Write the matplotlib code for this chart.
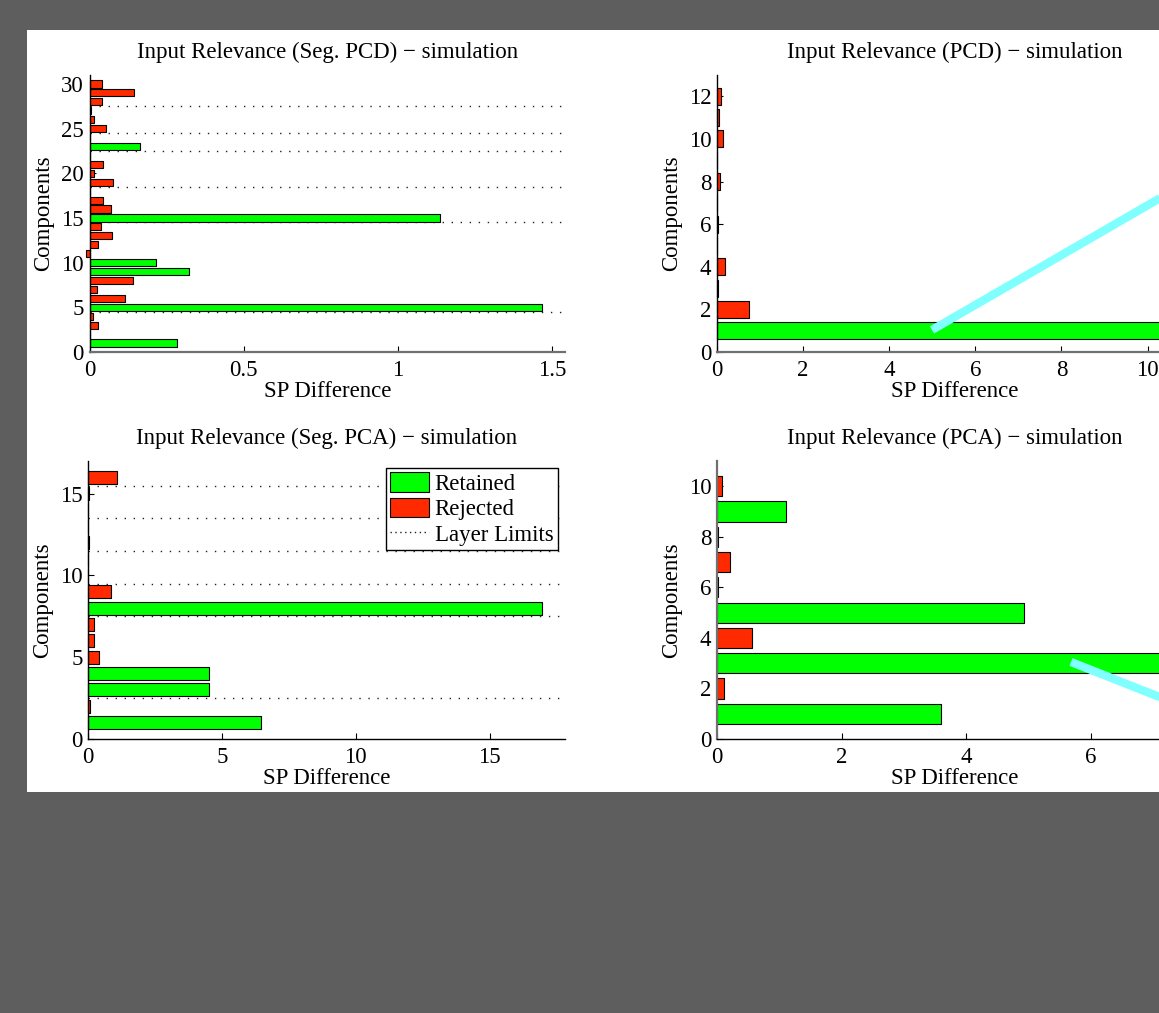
import matplotlib
matplotlib.use('Agg')
import matplotlib.pyplot as plt
from matplotlib.lines import Line2D
from matplotlib.patches import Patch, Rectangle
from matplotlib.ticker import FormatStrFormatter

plt.rcParams['font.family'] = ['Liberation Serif', 'DejaVu Serif']

GREEN = '#00ff00'
RED = '#ff2a00'
CYAN = '#80ffff'
FS = 16.5

# SP difference per component (component 1 first), 1 = retained, 0 = rejected
seg_pcd_sp = [0.284, 0.003, 0.028, 0.012, 1.469, 0.115, 0.024, 0.142, 0.323, 0.215,
              -0.010, 0.026, 0.074, 0.036, 1.137, 0.071, 0.043, 0.003, 0.075, 0.014,
              0.045, 0.003, 0.164, 0.0, 0.052, 0.016, 0.004, 0.039, 0.143, 0.039]
seg_pcd_kept = [1, 0, 0, 0, 1, 0, 0, 0, 1, 1,
                0, 0, 0, 0, 1, 0, 0, 0, 0, 0,
                0, 0, 1, 0, 0, 0, 0, 0, 0, 0]
seg_pcd_limits = [4.5, 14.5, 18.5, 22.5, 24.5, 27.5]

pcd_sp = [10.53, 0.74, 0.02, 0.18, 0.01, 0.03, 0.01, 0.08, 0.01, 0.13, 0.04, 0.085]
pcd_kept = [1, 0, 0, 0, 0, 0, 0, 0, 0, 0, 0, 0]

seg_pca_sp = [6.46, 0.09, 4.53, 4.52, 0.41, 0.24, 0.23, 16.97, 0.85, 0.01,
              0.0, 0.03, 0.0, 0.0, 0.02, 1.08]
seg_pca_kept = [1, 0, 1, 1, 0, 0, 0, 1, 0, 0, 0, 0, 0, 0, 0, 0]
seg_pca_limits = [2.5, 7.5, 9.5, 11.5, 13.5, 15.5]

pca_sp = [3.59, 0.12, 7.28, 0.56, 4.93, 0.02, 0.21, 0.02, 1.11, 0.08]
pca_kept = [1, 0, 1, 0, 1, 0, 0, 0, 1, 0]

titles = ['Input Relevance (Seg. PCD) \u2212 simulation',
          'Input Relevance (PCD) \u2212 simulation',
          'Input Relevance (Seg. PCA) \u2212 simulation',
          'Input Relevance (PCA) \u2212 simulation']

W, H = 1159, 1013


def px_box(x0, y0, x1, y1):
    # pixel box (top-left origin) -> figure fraction rect
    return [x0 / W, 1 - y1 / H, (x1 - x0) / W, (y1 - y0) / H]


def px_pt(x, y):
    return x / W, 1 - y / H


def panel(ax, values, kept, limits, title, xticks, yticks, ymax, xfmt='%g'):
    comps = list(range(1, len(values) + 1))
    colors = [GREEN if k else RED for k in kept]
    bars = ax.barh(comps, values, height=0.8, color=colors,
                   edgecolor='black', linewidth=0.8, zorder=2)
    for b in bars:
        b.set_clip_on(False)
    for lim in limits:
        ax.axhline(lim, color='#222222', lw=1.0, ls=(0, (1, 5.5)), zorder=1)
    ax.set_xlim(0, max(values) * 1.05)
    ax.set_ylim(0, ymax)
    ax.set_xticks(xticks)
    ax.set_yticks(yticks)
    ax.xaxis.set_major_formatter(FormatStrFormatter(xfmt))
    ax.tick_params(direction='in', length=4, width=0.8, labelsize=FS)
    ax.tick_params(axis='x', pad=6)
    ax.tick_params(axis='y', pad=4)
    ax.spines['top'].set_visible(False)
    ax.spines['right'].set_visible(False)
    for s in ('left', 'bottom'):
        ax.spines[s].set_linewidth(1.0)
    ax.set_title(title, fontsize=FS, pad=12)
    ax.set_xlabel('SP Difference', fontsize=FS, labelpad=0)
    ax.set_ylabel('Components', fontsize=FS, labelpad=5)


fig = plt.figure(figsize=(W / 100, H / 100), dpi=100, facecolor='#5e5e5e')
fig.add_artist(Rectangle(px_pt(27, 792), (W - 27) / W, (792 - 30) / H,
                         transform=fig.transFigure, facecolor='white',
                         edgecolor='none', zorder=-1))

ax1 = fig.add_axes(px_box(89.5, 75, 565, 352))
ax2 = fig.add_axes(px_box(717, 75, 1193, 352))
ax3 = fig.add_axes(px_box(88, 461, 565, 739))
ax4 = fig.add_axes(px_box(717, 461, 1193, 739))

panel(ax1, seg_pcd_sp, seg_pcd_kept, seg_pcd_limits, titles[0],
      [0, 0.5, 1, 1.5], range(0, 31, 5), 31)
panel(ax2, pcd_sp, pcd_kept, [], titles[1], range(0, 11, 2), range(0, 13, 2), 13)
panel(ax3, seg_pca_sp, seg_pca_kept, seg_pca_limits, titles[2],
      [0, 5, 10, 15], [0, 5, 10, 15], 17)
panel(ax4, pca_sp, pca_kept, [], titles[3], [0, 2, 4, 6], range(0, 11, 2), 11)

# resampled axis lines look grey and heavier in a few places
for sp in (ax1.spines['bottom'], ax2.spines['bottom'], ax4.spines['left']):
    sp.set_color('#707070')
    sp.set_linewidth(1.6)

handles = [Patch(facecolor=GREEN, edgecolor='black', linewidth=0.8),
           Patch(facecolor=RED, edgecolor='black', linewidth=0.8),
           Line2D([], [], color='#222222', lw=1.0, ls=(0, (1, 2.5)))]
leg = ax3.legend(handles, ['Retained', 'Rejected', 'Layer Limits'], loc='upper right',
                 fontsize=FS, frameon=True, fancybox=False, framealpha=1,
                 edgecolor='black', borderpad=0.2, labelspacing=0.12,
                 handlelength=1.7, handleheight=0.92, handletextpad=0.25,
                 borderaxespad=0.3)
leg.get_frame().set_linewidth(1.0)

# cyan pen strokes over the right-hand panels
stroke_a = [(932, 330), (1200, 175)]
stroke_b = [(1071, 662), (1200, 713)]
for stroke in (stroke_a, stroke_b):
    xs = [px_pt(*p)[0] for p in stroke]
    ys = [px_pt(*p)[1] for p in stroke]
    fig.add_artist(Line2D(xs, ys, transform=fig.transFigure, color=CYAN,
                          lw=6, solid_capstyle='butt', zorder=5))

fig.savefig('out.png', dpi=100, facecolor=fig.get_facecolor())
